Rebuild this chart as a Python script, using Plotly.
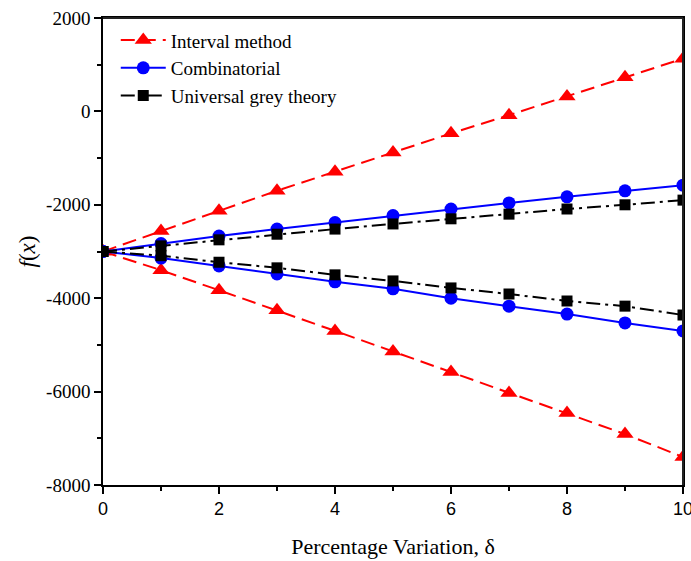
import plotly.graph_objects as go

x = [0, 1, 2, 3, 4, 5, 6, 7, 8, 9, 10]

interval_upper = [-3000, -2560, -2130, -1700, -1290, -880, -470, -80, 320, 730, 1130]
interval_lower = [-3000, -3400, -3830, -4260, -4700, -5140, -5580, -6030, -6460, -6910, -7400]
comb_upper = [-3000, -2830, -2670, -2520, -2380, -2230, -2090, -1960, -1830, -1700, -1580]
comb_lower = [-3000, -3140, -3310, -3480, -3650, -3800, -4000, -4170, -4340, -4530, -4700]
grey_upper = [-3000, -2880, -2750, -2630, -2520, -2410, -2300, -2200, -2090, -2000, -1900]
grey_lower = [-3000, -3090, -3230, -3350, -3500, -3630, -3780, -3910, -4060, -4170, -4360]

y_tickvals = [2000, 0, -2000, -4000, -6000, -8000]
y_ticktext = ["2000", "0", "-2000", "-4000", "-6000", "-8000"]
x_tickvals = [0, 2, 4, 6, 8, 10]
x_ticktext = ["0", "2", "4", "6", "8", "10"]

series = [
    ("Interval method", interval_upper, interval_lower, "#ff0000", "14px,7px", "triangle-up", 15),
    ("Combinatorial", comb_upper, comb_lower, "#0000ff", "solid", "circle", 13),
    ("Universal grey theory", grey_upper, grey_lower, "#000000", "14px,5px,3px,5px", "square", 11),
]

fig = go.Figure()
for name, up, lo, color, dash, sym, size in series:
    for i, yy in enumerate([up, lo]):
        fig.add_trace(go.Scatter(
            x=x, y=yy, mode="lines+markers", name=name,
            showlegend=(i == 0), legendgroup=name,
            line=dict(color=color, width=2, dash=dash),
            marker=dict(symbol=sym, size=size, color=color),
        ))

serif = "Liberation Serif, Times New Roman, serif"
sans = "Liberation Sans, Arial, sans-serif"

frame = dict(color="#222222", width=2)

fig.update_layout(
    width=691, height=561,
    margin=dict(l=103, r=8, t=18, b=76),
    paper_bgcolor="white", plot_bgcolor="white",
    showlegend=True,
    legend=dict(
        x=0.022, y=0.993, xanchor="left", yanchor="top",
        font=dict(family=serif, size=19, color="black"),
        bgcolor="rgba(0,0,0,0)", itemwidth=45,
        tracegroupgap=0,
    ),
    shapes=[
        dict(type="line", xref="paper", yref="paper", x0=0, x1=1, y0=1, y1=1, line=frame, layer="above"),
        dict(type="line", xref="paper", yref="paper", x0=1, x1=1, y0=0, y1=1, line=frame, layer="above"),
    ],
    xaxis=dict(
        range=[0, 10], tickvals=x_tickvals, ticktext=x_ticktext,
        showgrid=False, zeroline=False, automargin=False,
        showline=True, linecolor="black", linewidth=1.5, mirror=True,
        ticks="outside", ticklen=7, tickwidth=1.5, tickcolor="black",
        minor=dict(dtick=1, ticks="outside", ticklen=4, tickwidth=1.5, tickcolor="black", showgrid=False),
        tickfont=dict(family=sans, size=18, color="black"),
        ticklabeloverflow="allow",
        title=dict(text="Percentage Variation, δ", font=dict(family=serif, size=22, color="black"), standoff=20),
    ),
    yaxis=dict(
        range=[-8000, 2000], tickvals=y_tickvals, ticktext=y_ticktext,
        showgrid=False, zeroline=False, automargin=False,
        showline=True, linecolor="black", linewidth=1.5, mirror=True,
        ticks="outside", ticklen=7, tickwidth=1.5, tickcolor="black",
        minor=dict(dtick=1000, ticks="outside", ticklen=4, tickwidth=1.5, tickcolor="black", showgrid=False),
        tickfont=dict(family=serif, size=19, color="black"),
        ticklabeloverflow="allow",
        title=dict(text="<i>f</i>(<i>x</i>)", font=dict(family=serif, size=23, color="black"), standoff=4),
    ),
)

fig.write_html(
    "out.html",
    config={"displayModeBar": False},
    post_script="document.body.style.margin='0px';document.body.style.overflow='hidden';",
)
